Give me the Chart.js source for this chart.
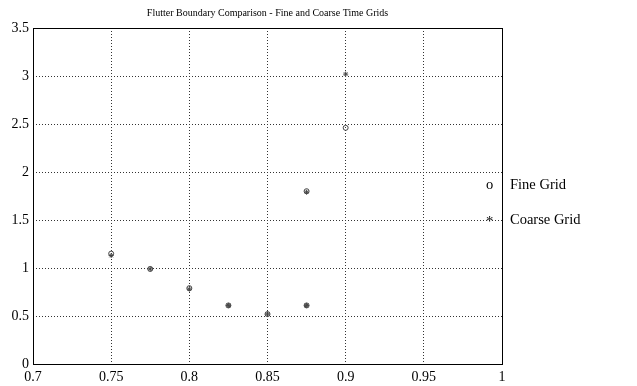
<!DOCTYPE html>
<html><head><meta charset="utf-8">
<script src="https://cdn.jsdelivr.net/npm/chart.js@4/dist/chart.umd.min.js"></script>
<style>
html,body{margin:0;padding:0;background:#fff;}
#wrap{position:relative;width:637px;height:386px;}
.lg{position:absolute;font-family:"Liberation Serif","Times New Roman",serif;font-size:14.5px;color:#000;white-space:nowrap;}
</style></head>
<body>
<div id="wrap"><canvas id="c" width="637" height="386"></canvas>
<div class="lg" style="left:486px;top:176px;">o</div>
<div class="lg" style="left:510px;top:176px;">Fine Grid</div>
<div class="lg" style="left:486px;top:213px;">*</div>
<div class="lg" style="left:510px;top:211px;">Coarse Grid</div>
</div>
<script>
const titleText = "Flutter Boundary Comparison - Fine and Coarse Time Grids";
const machNumbers = [0.75, 0.775, 0.8, 0.825, 0.85, 0.875, 0.875, 0.9];
const fineGrid   = [1.15, 0.99, 0.79, 0.61, 0.52, 0.61, 1.80, 2.46];
const coarseGrid = [1.13, 0.99, 0.78, 0.61, 0.52, 0.61, 1.79, 3.02];
const xTicks = [0.7, 0.75, 0.8, 0.85, 0.9, 0.95, 1];
const yTicks = [0, 0.5, 1, 1.5, 2, 2.5, 3, 3.5];

const serif = "'Liberation Serif','Times New Roman',serif";
const boxPlugin = {
  id: 'box',
  afterDraw(chart) {
    const a = chart.chartArea, ctx = chart.ctx;
    ctx.save();
    ctx.strokeStyle = '#000';
    ctx.lineWidth = 1;
    ctx.strokeRect(Math.round(a.left)+0.5, Math.round(a.top)+0.5, Math.round(a.right-a.left), Math.round(a.bottom-a.top));
    ctx.restore();
  }
};

new Chart(document.getElementById('c'), {
  type: 'scatter',
  data: {
    datasets: [
      { label: 'Fine Grid', data: machNumbers.map((x,i)=>({x, y: fineGrid[i]})),
        pointStyle: 'circle', radius: 2.5, borderColor: '#444', backgroundColor: 'rgba(0,0,0,0)', borderWidth: 1 },
      { label: 'Coarse Grid', data: machNumbers.map((x,i)=>({x, y: coarseGrid[i]})),
        pointStyle: 'star', radius: 2.5, borderColor: '#444', backgroundColor: 'rgba(0,0,0,0)', borderWidth: 1 }
    ]
  },
  options: {
    responsive: false, animation: false,
    layout: { padding: { left: 0, right: 135, top: 7, bottom: 0 } },
    plugins: {
      legend: { display: false },
      tooltip: { enabled: false },
      title: { display: true, text: titleText, fullSize: false, color: '#000',
        font: { family: serif, size: 10, weight: 'normal' }, padding: { top: 0, bottom: 9 } }
    },
    scales: {
      x: { type: 'linear', min: 0.7, max: 1,
        afterBuildTicks: s => { s.ticks = xTicks.map(v => ({value: v})); },
        afterFit: s => { s.height = 22; },
        grid: { color: '#333', lineWidth: 1, drawTicks: false },
        border: { display: false, dash: [1,2] },
        ticks: { color: '#000', padding: 5, maxRotation: 0, font: { family: serif, size: 14 },
          callback: v => String(v) } },
      y: { type: 'linear', min: 0, max: 3.5,
        afterBuildTicks: s => { s.ticks = yTicks.map(v => ({value: v})); },
        afterFit: s => { s.width = 33; },
        grid: { color: '#333', lineWidth: 1, drawTicks: false },
        border: { display: false, dash: [1,2] },
        ticks: { color: '#000', padding: 4, font: { family: serif, size: 14 },
          callback: v => String(v) } }
    }
  },
  plugins: [boxPlugin]
});
</script>
</body></html>
